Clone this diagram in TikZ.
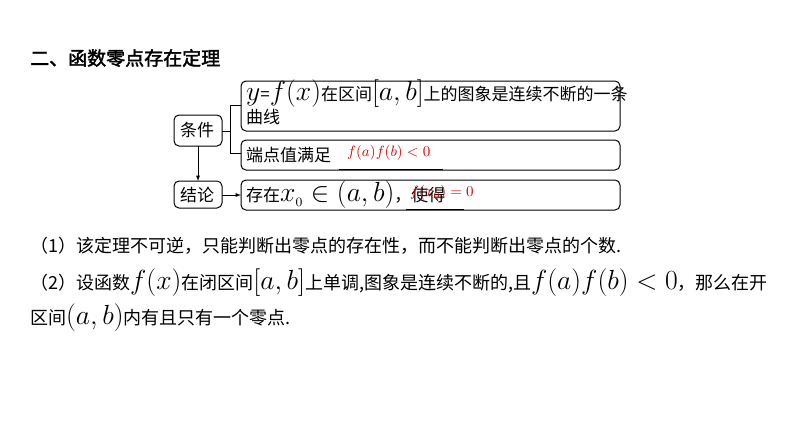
\documentclass[tikz,border=0pt]{standalone}
\usepackage{fontspec}
\newfontfamily\cjk{Noto Sans CJK SC}
\newfontfamily\cjkb{Noto Sans CJK SC}[FakeBold=2]
\newcommand\mth[1]{\scalebox{1.6}{$#1$}}
\newcommand\mthr[1]{\scalebox{1.5}{$#1$}}
\begin{document}
\begin{tikzpicture}[x=1pt,y=-1pt,
  bx/.style={draw,line width=1pt,rounded corners=5pt},
  ln/.style={line width=0.9pt},
  txt/.style={anchor=west,inner sep=0,font=\cjk\fontsize{17}{20}\selectfont},
  big/.style={anchor=west,inner sep=0,font=\cjk\fontsize{18}{21}\selectfont}]
\useasboundingbox (0,0) rectangle (794,447);
\node[anchor=west,inner sep=0,font=\cjkb\fontsize{19}{21}\selectfont] (title) at (30,58) {二、函数零点存在定理};
\draw[bx] (241,81) rectangle (620,131);
\draw[bx] (241,140) rectangle (620,170);
\draw[bx] (241,180) rectangle (620,210);
\draw[bx] (174,115) rectangle (222,146);
\draw[bx] (174,181) rectangle (222,208);
\node[txt] (c) at (180,130.5) {条件};
\node[txt] (j) at (180,195) {结论};
\node[txt] (t1) at (246,94) {\mth{y}=\mth{f(x)}在区间\mth{[a,b]}上的图象是连续不断的一条};
\node[txt] (t1b) at (246,117) {曲线};
\node[txt] (t2) at (246,155) {端点值满足};
\node[anchor=west,inner sep=0,text=red!85!black] (r1) at (347,153) {\mthr{f(a)f(b)<0}};
\draw[ln] (339,169) -- (443,169);
\node[txt] (t3) at (246,195) {存在\mth{x_{\scriptscriptstyle 0}\in(a,b)}，使得};
\node[anchor=west,inner sep=0,text=red!85!black] (r2) at (410,193) {\mthr{f(x_0)=0}};
\draw[ln] (406,209) -- (464,209);
\draw[ln] (222,131) -- (230,131);
\draw[ln] (241,105) -- (230,105) -- (230,153) -- (241,153);
\draw[ln,-latex] (198,146) -- (198,181);
\draw[ln,-latex] (222,195) -- (241,195);
\node[big] (p1) at (30,246) {（1）该定理不可逆，只能判断出零点的存在性，而不能判断出零点的个数.};
\node[big] (p2) at (30,283) {（2）设函数\mth{f(x)}在闭区间\mth{[a,b]}上单调,图象是连续不断的,且\mth{f(a)f(b)<0}，那么在开};
\node[big] (p3) at (30,318) {区间\mth{(a,b)}内有且只有一个零点.};
\end{tikzpicture}
\end{document}
